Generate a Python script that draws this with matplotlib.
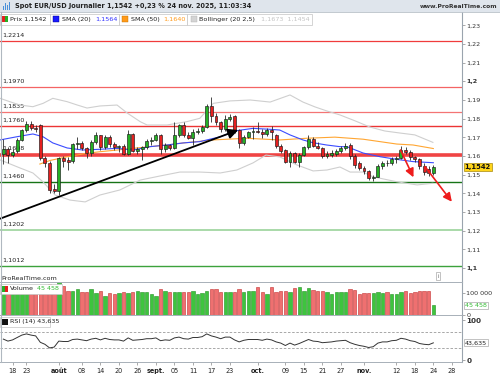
import matplotlib
matplotlib.use("Agg")
import matplotlib.pyplot as plt
from matplotlib.patches import Rectangle
from matplotlib.lines import Line2D

plt.rcParams['font.family'] = ['DejaVu Sans']

# ---------------- data (day index 0 = 18 juil.) ----------------
day_idx = list(range(-2, 92))
opens = [1.1610,1.1640,1.1605,1.1625,1.1688,1.1740,1.1770,1.1752,1.1765,1.1590,
         1.1560,1.1425,1.1415,1.1588,1.1578,1.1572,1.1662,1.1670,1.1645,1.1615,
         1.1676,1.1710,1.1650,1.1703,1.1662,1.1648,1.1652,1.1612,1.1720,1.1625,
         1.1640,1.1650,1.1680,1.1685,1.1712,1.1635,1.1658,1.1645,1.1715,1.1765,
         1.1710,1.1698,1.1730,1.1735,1.1758,1.1870,1.1815,1.1783,1.1745,1.1800,
         1.1815,1.1737,1.1668,1.1702,1.1728,1.1734,1.1730,1.1716,1.1740,1.1715,
         1.1652,1.1630,1.1567,1.1617,1.1568,1.1608,1.1648,1.1690,1.1655,1.1643,
         1.1600,1.1608,1.1612,1.1625,1.1645,1.1658,1.1598,1.1560,1.1535,1.1520,
         1.1482,1.1490,1.1545,1.1565,1.1560,1.1585,1.1590,1.1632,1.1622,1.1592,
         1.1582,1.1545,1.1528,1.1508]
highs = [1.1690,1.1650,1.1640,1.1695,1.1745,1.1790,1.1785,1.1765,1.1772,1.1600,
         1.1575,1.1450,1.1595,1.1598,1.1595,1.1672,1.1700,1.1680,1.1650,1.1685,
         1.1730,1.1715,1.1715,1.1710,1.1675,1.1660,1.1662,1.1740,1.1722,1.1650,
         1.1655,1.1690,1.1700,1.1725,1.1720,1.1670,1.1665,1.1780,1.1770,1.1780,
         1.1730,1.1745,1.1750,1.1768,1.1878,1.1918,1.1830,1.1790,1.1820,1.1825,
         1.1820,1.1745,1.1712,1.1735,1.1755,1.1780,1.1745,1.1750,1.1760,1.1720,
         1.1665,1.1640,1.1625,1.1622,1.1618,1.1655,1.1715,1.1700,1.1675,1.1648,
         1.1625,1.1630,1.1640,1.1655,1.1668,1.1668,1.1610,1.1575,1.1545,1.1525,
         1.1500,1.1555,1.1575,1.1580,1.1595,1.1600,1.1655,1.1650,1.1630,1.1600,
         1.1590,1.1560,1.1545,1.1550]
lows = [1.1555,1.1560,1.1595,1.1615,1.1680,1.1730,1.1740,1.1730,1.1580,1.1540,
        1.1400,1.1400,1.1392,1.1540,1.1525,1.1565,1.1640,1.1630,1.1590,1.1600,
        1.1665,1.1630,1.1640,1.1650,1.1630,1.1620,1.1605,1.1605,1.1620,1.1610,
        1.1578,1.1640,1.1660,1.1680,1.1610,1.1620,1.1630,1.1640,1.1700,1.1700,
        1.1690,1.1660,1.1720,1.1725,1.1750,1.1780,1.1765,1.1730,1.1735,1.1785,
        1.1725,1.1645,1.1660,1.1695,1.1690,1.1725,1.1695,1.1705,1.1685,1.1645,
        1.1615,1.1560,1.1542,1.1560,1.1542,1.1600,1.1640,1.1650,1.1635,1.1590,
        1.1590,1.1595,1.1600,1.1615,1.1630,1.1585,1.1535,1.1525,1.1505,1.1470,
        1.1468,1.1485,1.1530,1.1545,1.1550,1.1565,1.1585,1.1610,1.1580,1.1570,
        1.1530,1.1500,1.1492,1.1500]
closes = [1.1640,1.1605,1.1622,1.1688,1.1740,1.1770,1.1752,1.1744,1.1588,1.1562,
          1.1420,1.1415,1.1588,1.1572,1.1570,1.1665,1.1672,1.1645,1.1615,1.1676,
          1.1710,1.1650,1.1703,1.1662,1.1648,1.1653,1.1610,1.1720,1.1625,1.1640,
          1.1650,1.1680,1.1685,1.1712,1.1635,1.1658,1.1645,1.1715,1.1765,1.1710,
          1.1698,1.1730,1.1735,1.1758,1.1870,1.1815,1.1783,1.1742,1.1800,1.1810,
          1.1737,1.1668,1.1702,1.1728,1.1732,1.1730,1.1716,1.1740,1.1728,1.1652,
          1.1625,1.1567,1.1617,1.1568,1.1608,1.1648,1.1690,1.1655,1.1643,1.1600,
          1.1610,1.1614,1.1625,1.1645,1.1655,1.1598,1.1550,1.1535,1.1520,1.1482,
          1.1490,1.1545,1.1565,1.1560,1.1585,1.1590,1.1632,1.1622,1.1592,1.1582,
          1.1545,1.1515,1.1508,1.1542]
volumes = [130000,120000,110000,115000,120000,125000,120000,110000,140000,130000,
           145000,135000,150000,135000,112000,112000,120000,105000,105000,120000,
           100000,112000,89000,100000,97000,100000,105000,100000,105000,112000,
           105000,105000,97000,89000,120000,112000,105000,105000,108000,108000,
           108000,112000,97000,100000,112000,120000,120000,105000,105000,108000,
           105000,120000,105000,112000,112000,130000,105000,97000,128000,105000,
           112000,112000,107000,123000,128000,112000,123000,115000,109000,112000,
           105000,97000,105000,105000,105000,120000,117000,97000,100000,103000,
           100000,105000,100000,105000,97000,97000,105000,112000,100000,105000,
           109000,112000,112000,45458]
rsi = [53,48,51,57,63,66,63,61,45,40,
       31,33,48,47,47,52,53,51,49,53,
       55,51,55,52,51,51,48,56,50,51,
       52,54,54,56,49,51,50,56,58,54,
       53,57,57,59,66,61,58,54,58,58,
       51,46,50,52,52,52,50,53,51,46,
       43,37,43,38,42,47,52,48,47,44,
       45,46,48,49,50,44,40,37,35,32,
       34,43,46,46,49,50,55,53,49,47,
       42,40,39,43.635]

sma20_x = [-2.7,0.9,4.4,6.6,8.7,11.8,15.2,18.9,22.6,26.1,29.7,33.4,36.9,40.5,44.9,48.5,
           52.0,55.7,57.8,60.0,62.8,65.0,67.9,70.8,72.3,75.8,79.5,83.1,86.6,91.0]
sma20_v = [1.1686,1.1703,1.1718,1.1703,1.1670,1.1643,1.1632,1.1636,1.1641,1.1632,1.1650,
           1.1659,1.1670,1.1677,1.1703,1.1736,1.1748,1.1743,1.1739,1.1713,1.1686,1.1671,
           1.1659,1.1650,1.1650,1.1616,1.1596,1.1582,1.1570,1.1564]
sma50_x = [5.9,8.1,11.8,15.2,18.9,22.6,26.1,29.7,33.4,36.2,43.3,50.6,57.8,63.6,69.7,
           75.8,83.1,86.6,91.0]
sma50_v = [1.1557,1.1576,1.1596,1.1611,1.1623,1.1632,1.1641,1.1650,1.1659,1.1668,1.1686,
           1.1695,1.1686,1.1695,1.1701,1.1690,1.1664,1.1659,1.1640]
bbu_x = [-2.7,-0.6,1.6,4.4,6.6,8.7,11.8,14.0,16.1,18.9,22.6,24.8,27.6,29.1,33.4,37.7,40.5,
         43.4,47.0,51.4,55.7,60.0,62.8,65.4,68.0,70.8,74.1,77.3,80.5,83.8,87.0,90.9]
bbu_v = [1.1909,1.1891,1.1873,1.1864,1.1882,1.1909,1.1891,1.1873,1.1857,1.1868,1.1873,
         1.1830,1.1784,1.1766,1.1766,1.1784,1.1802,1.1882,1.1895,1.1900,1.1889,1.1927,
         1.1889,1.1863,1.1841,1.1820,1.1788,1.1755,1.1734,1.1723,1.1713,1.1673]
bbl_x = [-2.7,1.6,4.4,6.6,9.2,12.4,15.7,18.9,23.2,27.6,31.9,36.2,40.5,44.9,48.5,52.0,
         54.8,57.8,61.5,65.0,68.0,70.8,73.0,75.8,77.9,83.1,87.5,90.9]
bbl_v = [1.1579,1.1536,1.1509,1.1461,1.1391,1.1364,1.1354,1.1391,1.1418,1.1471,1.1493,
         1.1514,1.1514,1.1509,1.1525,1.1563,1.1605,1.1595,1.1552,1.1520,1.1525,1.1541,
         1.1514,1.1514,1.1489,1.1462,1.1445,1.1454]

levels = [1.2214, 1.1970, 1.1835, 1.1760, 1.1608, 1.1460, 1.1202, 1.1012]
level_labels = ["1,2214", "1,1970", "1,1835", "1,1760", "1,1608", "1,1460", "1,1202", "1,1012"]
level_colors = ['#f03c3c', '#f46464', '#f47474', '#ec3434', '#f04444', '#177417', '#92d092', '#3ca23c']
level_lw = [0.9, 0.9, 0.9, 1.0, 2.6, 1.0, 1.1, 1.0]

trend_arrow = [(-2.72, 1.1264), (48.8, 1.1739)]
red_arrows = [[(83.9, 1.1632), (86.7, 1.1486)], [(89.2, 1.1543), (95.0, 1.1355)]]

xtick_pos = [0, 3, 10, 15, 19, 23, 27, 31, 35, 39, 43, 47, 53, 59, 63, 67, 71, 76, 83, 87, 91, 95]
xtick_lab = ["18", "23", "août", "08", "14", "20", "26", "sept.", "05", "11", "17", "23",
             "oct.", "09", "15", "21", "27", "nov.", "12", "18", "24", "28"]
month_labels = {"août", "sept.", "oct.", "nov."}

# ---------------- layout ----------------
W, H = 500, 375
fig = plt.figure(figsize=(5, 3.75), dpi=100)
fig.patch.set_facecolor('white')

def fr(px_l, py_t, px_r, py_b):
    return [px_l / W, 1 - py_b / H, (px_r - px_l) / W, (py_b - py_t) / H]

axp = fig.add_axes(fr(0, 12, 462, 282))
axv = fig.add_axes(fr(0, 282, 462, 315))
axr = fig.add_axes(fr(0, 315, 462, 362))

XL = (-12.56 / 4.624, (462 - 12.56) / 4.624)
AXC = '#9aa4ae'
TXT = '#333333'
for ax in (axp, axv, axr):
    ax.set_xlim(*XL)
    ax.set_facecolor('white')
    for s in ('left', 'bottom', 'top'):
        ax.spines[s].set_visible(False)
    ax.spines['right'].set_color(AXC)
    ax.spines['right'].set_linewidth(0.8)
    ax.yaxis.tick_right()
    ax.tick_params(axis='y', length=2, width=0.5, color='#888888', labelsize=4.6,
                   labelcolor=TXT, pad=1)
    ax.tick_params(axis='x', bottom=False, labelbottom=False)
for ax in (axv, axr):
    ax.spines['top'].set_visible(True)
    ax.spines['top'].set_color('#a8b0b8')
    ax.spines['top'].set_linewidth(0.7)
axr.spines['bottom'].set_visible(True)
axr.spines['bottom'].set_color('#a8b0b8')
axr.spines['bottom'].set_linewidth(0.7)

# ---------------- price panel ----------------
axp.set_ylim(1.0925, 1.23714)
pt = [1.10 + 0.01 * k for k in range(14)]
plab = []
for v in pt:
    s = f"{v:.2f}".replace('.', ',')
    if s.endswith('0'):
        s = s[:-1]
    plab.append(s)
axp.set_yticks(pt, plab)
for t in axp.get_yticklabels():
    if t.get_text() in ("1,2", "1,1"):
        t.set_fontweight('bold')

for lv, lb, c, lw in zip(levels, level_labels, level_colors, level_lw):
    axp.axhline(lv, color=c, lw=lw, zorder=1)
    axp.annotate(lb, xy=(0.004, lv), xycoords=('axes fraction', 'data'),
                 xytext=(0, 2.4), textcoords='offset points', fontsize=4.6,
                 color='#222222', va='bottom', ha='left', zorder=1)

axp.plot(bbu_x, bbu_v, color='#cfcfcf', lw=0.8, zorder=2)
axp.plot(bbl_x, bbl_v, color='#cfcfcf', lw=0.8, zorder=2)
axp.plot(sma50_x, sma50_v, color='#ffa632', lw=0.8, zorder=2)
axp.plot(sma20_x, sma20_v, color='#3b4cff', lw=0.8, zorder=2)

up_col, dn_col = '#25b025', '#e52020'
for i, o, h, l, c in zip(day_idx, opens, highs, lows, closes):
    axp.vlines(i, l, h, color='#2a2a2a', lw=0.6, zorder=3)
    body = max(abs(c - o), 0.00018)
    axp.bar(i, body, bottom=min(o, c), width=0.64, color=up_col if c >= o else dn_col,
            edgecolor='#1a1a1a', linewidth=0.45, zorder=4)

(x0, y0), (x1, y1) = trend_arrow
axp.annotate('', xy=(x1, y1), xytext=(x0, y0),
             arrowprops=dict(arrowstyle='-|>,head_length=0.6,head_width=0.3',
                             color='black', lw=1.3, shrinkA=0, shrinkB=0), zorder=6)
for (ax0, ay0), (ax1, ay1) in red_arrows:
    axp.annotate('', xy=(ax1, ay1), xytext=(ax0, ay0),
                 arrowprops=dict(arrowstyle='-|>,head_length=0.5,head_width=0.25',
                                 color='#ee1c1c', lw=1.2, shrinkA=0, shrinkB=0), zorder=6)

axp.text(1.006, closes[-1], "1,1542", transform=axp.get_yaxis_transform(), fontsize=4.9,
         fontweight='bold', color='#111111', va='center', ha='left', zorder=10, clip_on=False,
         bbox=dict(boxstyle='square,pad=0.18', fc='#ffd51a', ec='#a88a10', lw=0.5))

axp.text(0.003, 0.005, "ProRealTime.com", transform=axp.transAxes, fontsize=4.6,
         color='#222222', va='bottom', ha='left')
axp.text(0.948, 0.012, "i", transform=axp.transAxes, fontsize=4, color='#666666',
         va='bottom', ha='center',
         bbox=dict(boxstyle='square,pad=0.25', fc='white', ec='#aaaaaa', lw=0.5))

# ---------------- volume panel ----------------
axv.set_ylim(0, 152000)
vcol = ['#3ec43e' if c >= o else '#ef7070' for o, c in zip(opens, closes)]
vedge = ['#1f901f' if c >= o else '#c43030' for o, c in zip(opens, closes)]
axv.bar(day_idx, volumes, width=0.74, color=vcol, edgecolor=vedge, linewidth=0.4, zorder=2)
axv.set_yticks([0, 100000], ["0", "100 000"])
axv.text(1.006, volumes[-1], "45 458", transform=axv.get_yaxis_transform(), fontsize=4.6,
         color='#33bb33', va='center', ha='left', clip_on=False,
         bbox=dict(boxstyle='square,pad=0.15', fc='white', ec='#aaaaaa', lw=0.5))

# ---------------- RSI panel ----------------
axr.set_ylim(-4.25, 113.25)
axr.axhline(70, color='#9a9a9a', lw=0.6, ls=(0, (3, 2)))
axr.axhline(30, color='#9a9a9a', lw=0.6, ls=(0, (3, 2)))
axr.plot(day_idx, rsi, color='#333333', lw=0.7)
axr.set_yticks([0, 100], ["0", "100"])
for t in axr.get_yticklabels():
    t.set_fontweight('bold')
    t.set_fontsize(5.2)
axr.text(1.006, rsi[-1], "43,635", transform=axr.get_yaxis_transform(), fontsize=4.6,
         color='#222222', va='center', ha='left', clip_on=False,
         bbox=dict(boxstyle='square,pad=0.15', fc='white', ec='#aaaaaa', lw=0.5))

axr.tick_params(axis='x', bottom=True, labelbottom=True, length=2, width=0.5,
                color='#888888', labelsize=4.7, labelcolor='#222222', pad=2)
axr.set_xticks(xtick_pos, xtick_lab)
for t in axr.get_xticklabels():
    if t.get_text() in month_labels:
        t.set_fontweight('bold')

# ---------------- header / legends (figure pixels) ----------------
def ptxt(px, py, s, **kw):
    fig.text(px / W, 1 - py / H, s, **kw)

def prect(px, py, w, h, **kw):
    fig.patches.append(Rectangle((px / W, 1 - (py + h) / H), w / W, h / H,
                                 transform=fig.transFigure, **kw))

prect(0, 0, 500, 12, fc='#dfe5ec', ec='none')
fig.lines.append(Line2D([0, 1], [1 - 12 / H] * 2, transform=fig.transFigure,
                        color='#b8c0c8', lw=0.6))
for k, hh in enumerate([4, 7, 5, 8]):
    prect(3 + k * 2, 10 - hh, 1.2, hh, fc='#4a90d9', ec='none')
ptxt(15, 6.3, "Spot EUR/USD Journalier 1,1542 +0,23 % 24 nov. 2025, 11:03:34",
     fontsize=4.7, fontweight='bold', color='#222222', va='center', ha='left')
ptxt(497, 6.3, "www.ProRealTime.com", fontsize=4.3, fontweight='bold',
     color='#333333', va='center', ha='right')

# main legend
for bx0, bx1 in [(0, 50), (50, 119), (119, 187), (187, 312)]:
    prect(bx0, 13.5, bx1 - bx0, 11, fc='white', ec='#c4c4c4', lw=0.5)
prect(1.5, 16, 3, 6, fc='#e52020', ec='none')
prect(4.5, 16, 3, 6, fc='#25b025', ec='none')
ly = 19.2
ptxt(10, ly, "Prix 1,1542", fontsize=4.6, color='#222222', va='center')
prect(53, 16, 6, 6, fc='#1a1aff', ec='#000080', lw=0.3)
ptxt(62, ly, "SMA (20)", fontsize=4.6, color='#222222', va='center')
ptxt(95, ly, "1,1564", fontsize=4.6, color='#3333ff', va='center')
prect(122, 16, 6, 6, fc='#ff9a1a', ec='#c07000', lw=0.3)
ptxt(131, ly, "SMA (50)", fontsize=4.6, color='#222222', va='center')
ptxt(163, ly, "1,1640", fontsize=4.6, color='#ff9a1a', va='center')
prect(191, 16, 6, 6, fc='#d4d4d4', ec='#b0b0b0', lw=0.3)
ptxt(199, ly, "Bollinger (20 2,5)", fontsize=4.6, color='#222222', va='center')
ptxt(261, ly, "1,1673  1,1454", fontsize=4.6, color='#c4c4c4', va='center')

# volume legend
prect(0, 283.5, 62, 10, fc='white', ec='#c4c4c4', lw=0.5)
prect(1.5, 285.5, 3, 6, fc='#25b025', ec='none')
prect(4.5, 285.5, 3, 6, fc='#e52020', ec='none')
ptxt(10, 288.6, "Volume", fontsize=4.6, color='#222222', va='center')
ptxt(37, 288.6, "45 458", fontsize=4.6, color='#33bb33', va='center')

# RSI legend
prect(0, 316.5, 50, 10, fc='white', ec='#c4c4c4', lw=0.5)
prect(1.5, 318.5, 6, 6, fc='#111111', ec='none')
ptxt(10, 321.6, "RSI (14) 43,635", fontsize=4.6, color='#222222', va='center')

fig.lines.append(Line2D([0.5 / W] * 2, [1 - 12 / H, 1 - 362 / H], transform=fig.transFigure,
                        color='#b0b8c0', lw=0.8))

fig.savefig("out.png", dpi=100)
